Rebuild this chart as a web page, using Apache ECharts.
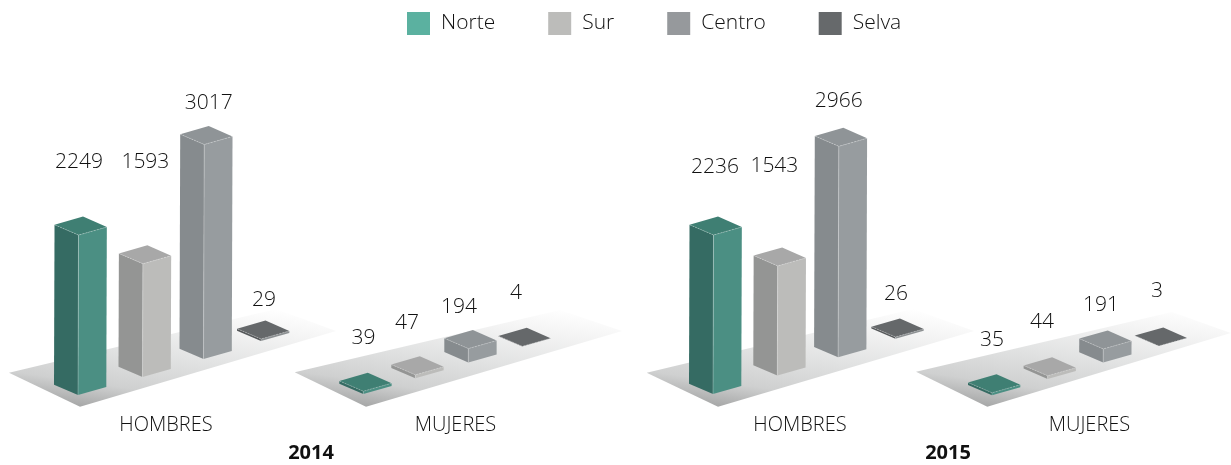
<!DOCTYPE html>
<html><head><meta charset="utf-8">
<style>html,body{margin:0;padding:0;background:#fff}#c{width:1231px;height:465px}</style>
<script src="https://cdn.jsdelivr.net/npm/echarts@6/dist/echarts.min.js"></script>
</head><body><div id="c"></div>
<script>
// ---- data ----
const regions = ['Norte', 'Sur', 'Centro', 'Selva'];
const hombres2014 = [2249, 1593, 3017, 29];
const mujeres2014 = [39, 47, 194, 4];
const hombres2015 = [2236, 1543, 2966, 26];
const mujeres2015 = [35, 44, 191, 3];
const panelNames = ['HOMBRES', 'MUJERES', 'HOMBRES', 'MUJERES'];
const yearNames = ['2014', '2015'];

// ---- style & layout ----
const FONT = '"Open Sans", sans-serif';
const palette = [
  {legend:'#5bb1a0', top:'#3f7f73', left:'#356b63', right:'#4b8f83'},
  {legend:'#bcbcba', top:'#a8a8a8', left:'#949594', right:'#bcbcba'},
  {legend:'#96999c', top:'#8f9497', left:'#868b8e', right:'#979c9f'},
  {legend:'#66696b', top:'#65686a', left:'#55585a', right:'#8d9193'}
];
const AXIS_MAX = 3500, PLOT_H = 248.85;
// x0/step/curve: where the categories fall; y0/rise: floor tilt along the depth
const panels = [
  {values:hombres2014, x0:78,    step:64.5, curve:-1.75, y0:395,   rise:18,
   shift:[[-4,-55.6],[-2,-84.2],[0,-24],[-1.5,-21.4]],
   floor:[[9,372.7],[80,406.7],[336,331],[276,309]], caption:166},
  {values:mujeres2014, x0:363.3, step:52,   curve:0.5,   y0:394,   rise:15.8,
   shift:[[-4.3,-35.7],[-12.8,-34.4],[-13.8,-24.1],[-10.8,-35.8]],
   floor:[[294.7,372.3],[366,406.7],[622,331],[560,310]], caption:455.5},
  {values:hombres2015, x0:713,   step:64.3, curve:-1.75, y0:394,   rise:18.4,
   shift:[[-3,-50.5],[-7.8,-82.4],[-4.6,-27.8],[-3.9,-25.5]],
   floor:[[646.7,372.7],[718,406.7],[974,331],[913,309]], caption:800},
  {values:mujeres2015, x0:992,   step:55.6, curve:0,     y0:395.3, rise:16.4,
   shift:[[-4.5,-35.3],[-10.1,-36.3],[-6.7,-26.4],[-6.3,-37.4]],
   floor:[[916,371.7],[987.3,406.7],[1230.7,333],[1172,312]], caption:1089.5}
];
const yearCentres = [311, 948];
const FOOT = {left:[-24,-10.3], right:[28.3,-8], back:[4.5,-18.5]};
const LEAN = 0.0033;

function makeRender(panel, colour) {
  return function (params, api) {
    const i = api.value(0), v = api.value(1);
    const base = api.coord([i, 0]), peak = api.coord([i, v]);
    const fx = base[0] + panel.curve * i * (i - 1);
    const fy = base[1] - panel.rise * i;
    const h = base[1] - peak[1];
    const tx = fx + h * LEAN, ty = fy - h;
    const pt = (o, x, y) => [x + o[0], y + o[1]];
    const bL = pt(FOOT.left, fx, fy), bR = pt(FOOT.right, fx, fy);
    const tL = pt(FOOT.left, tx, ty), tR = pt(FOOT.right, tx, ty), tB = pt(FOOT.back, tx, ty);
    const edge = {stroke:'rgba(255,255,255,0.38)', lineWidth:0.7, fill:null};
    const dashed = Object.assign({lineDash:[2,1]}, edge);
    return {type:'group', children:[
      {type:'polygon', shape:{points:[tL,[tx,ty],[fx,fy],bL]}, style:{fill:colour.left}},
      {type:'polygon', shape:{points:[[tx,ty],tR,bR,[fx,fy]]}, style:{fill:colour.right}},
      {type:'polygon', shape:{points:[tL,tB,tR,[tx,ty]]}, style:{fill:colour.top}},
      {type:'polyline', shape:{points:[tL,[tx,ty],tR]}, style:dashed},
      {type:'line', shape:{x1:tx,y1:ty,x2:fx,y2:fy}, style:edge},
      {type:'text', x:tB[0] + panel.shift[i][0], y:tB[1] + panel.shift[i][1] + 1,
       style:{text:String(v), fill:'#111', font:'300 21px ' + FONT, align:'center', verticalAlign:'middle'}}
    ]};
  };
}

const grids = [], xAxes = [], yAxes = [], series = [], graphics = [], titles = [];
panels.forEach((p, n) => {
  grids.push({left:p.x0 - p.step / 2, width:p.step * regions.length, top:p.y0 - PLOT_H, height:PLOT_H});
  xAxes.push({type:'category', gridIndex:n, data:regions, show:false});
  yAxes.push({type:'value', gridIndex:n, min:0, max:AXIS_MAX, show:false});
  regions.forEach((r, i) => {
    series.push({
      type:'custom', name:r, xAxisIndex:n, yAxisIndex:n, coordinateSystem:'cartesian2d',
      itemStyle:{color:palette[i].legend}, encode:{x:0, y:1}, clip:false,
      data:[[i, p.values[i]]], renderItem:makeRender(p, palette[i])
    });
  });
  const front = p.floor[1];
  graphics.push({type:'polygon', z:0, silent:true, shape:{points:p.floor},
    style:{fill:{type:'linear', global:true, x:front[0], y:front[1], x2:front[0] + 18, y2:front[1] - 124, colorStops:[
      {offset:0, color:'#a6a7a7'}, {offset:0.2, color:'#cfd0d0'}, {offset:0.5, color:'#e2e3e3'},
      {offset:0.8, color:'#f4f4f4'}, {offset:1, color:'#ffffff'}]}}});
  titles.push({text:panelNames[n], left:p.caption, top:425, padding:0, textAlign:'center', textVerticalAlign:'middle',
    textStyle:{fontFamily:FONT, fontWeight:300, fontSize:20, color:'#111'}});
});
yearNames.forEach((y, k) => titles.push({text:y, left:yearCentres[k], top:453, padding:0, textAlign:'center', textVerticalAlign:'middle',
  textStyle:{fontFamily:FONT, fontWeight:700, fontSize:20, color:'#111'}}));

const chart = echarts.init(document.getElementById('c'), null, {renderer:'canvas'});
chart.setOption({
  animation:false, backgroundColor:'#fff', title:titles, grid:grids, xAxis:xAxes, yAxis:yAxes,
  legend:{data:regions, left:407, top:12, itemWidth:23, itemHeight:23, itemGap:53, selectedMode:false, icon:'rect', padding:0,
    textStyle:{fontFamily:FONT, fontWeight:300, fontSize:21, color:'#111', padding:[0,0,0,6]}},
  graphic:graphics, series:series
});
</script></body></html>
